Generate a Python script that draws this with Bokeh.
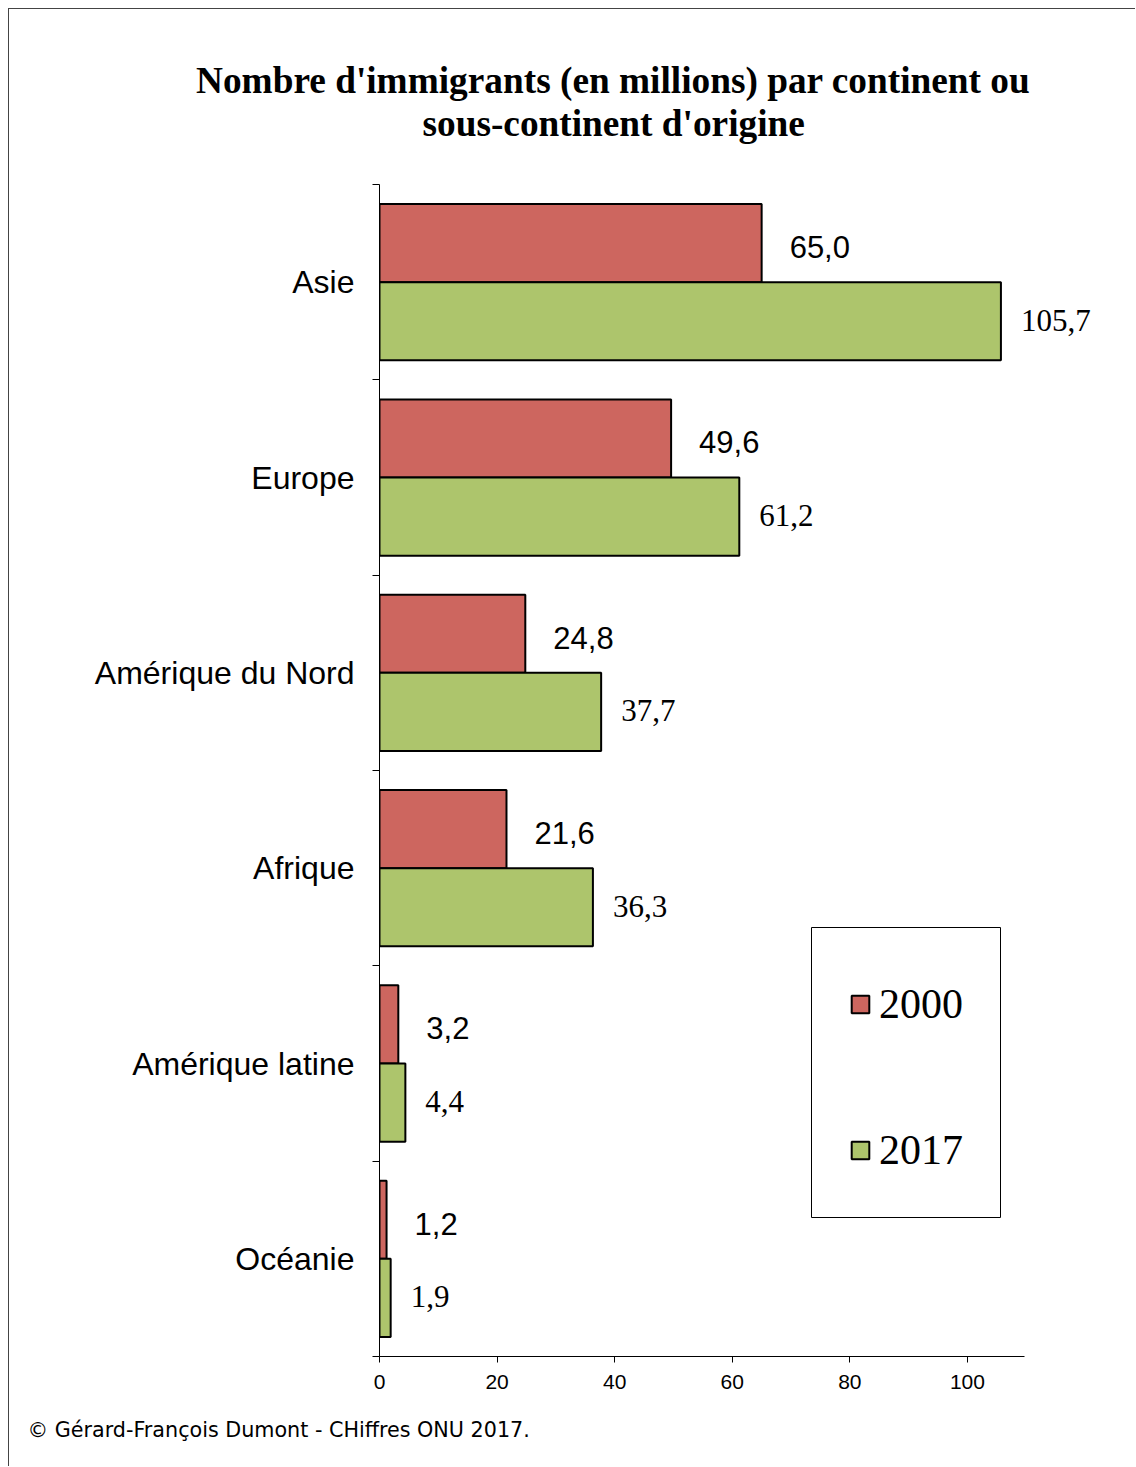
from bokeh.plotting import figure
from bokeh.models import (Range1d, FixedTicker, Title, Legend, LegendItem,
                          BoxAnnotation, ColumnDataSource)
from bokeh.core.properties import value
from bokeh.embed import file_html
from bokeh.resources import INLINE

# ---------------- data ----------------
categories = ["Asie", "Europe", "Amérique du Nord", "Afrique",
              "Amérique latine", "Océanie"]
values_2000 = [65.0, 49.6, 24.8, 21.6, 3.2, 1.2]
values_2017 = [105.7, 61.2, 37.7, 36.3, 4.4, 1.9]
series_names = ["2000", "2017"]
x_ticks = [0, 20, 40, 60, 80, 100]
title_lines = ["Nombre d'immigrants (en millions) par continent ou",
               "sous-continent d'origine"]
footer = "© Gérard-François Dumont - CHiffres ONU 2017."

RED = "#CD665F"
GREEN = "#ADC56C"

n = len(categories)
centers = [n - i - 0.5 for i in range(n)]


def fr(v):
    return f"{v:.1f}".replace(".", ",")


src = ColumnDataSource(dict(
    cat=categories,
    y2000=[c + 0.2 for c in centers],
    y2017=[c - 0.2 for c in centers],
    v2000=values_2000,
    v2017=values_2017,
    l2000=[fr(v) for v in values_2000],
    l2017=[fr(v) for v in values_2017],
))

p = figure(width=1127, height=1458,
           x_range=Range1d(0, 127.4), y_range=Range1d(0, 6.21),
           output_backend="svg", toolbar_location=None,
           min_border_left=370, min_border_right=8,
           min_border_top=134, min_border_bottom=111,
           styles={"margin-left": "8px", "margin-top": "8px",
                   "border-left": "1px solid #444",
                   "border-top": "1px solid #444"})
p.title.visible = False
p.grid.visible = False
p.outline_line_color = None
p.background_fill_color = "white"
p.border_fill_color = "white"

r1 = p.hbar(y="y2000", right="v2000", left=0, height=0.4, source=src,
            fill_color=RED, line_color="black", line_width=2)
r2 = p.hbar(y="y2017", right="v2017", left=0, height=0.4, source=src,
            fill_color=GREEN, line_color="black", line_width=2)

p.text(x="v2000", y="y2000", text="l2000", source=src, x_offset=28, y_offset=4,
       text_baseline="middle", text_align="left",
       text_font=value("Liberation Sans"), text_font_size="31px",
       text_color="black")
p.text(x="v2017", y="y2017", text="l2017", source=src, x_offset=20, y_offset=-1,
       text_baseline="middle", text_align="left",
       text_font=value("Liberation Serif"), text_font_size="31px",
       text_color="black")

# y axis: category labels at band centres, ticks at band boundaries
ya = p.yaxis[0]
ya.ticker = FixedTicker(ticks=centers, minor_ticks=list(range(n + 1)))
ya.bounds = (0, n)
ya.major_label_overrides = {c: name for c, name in zip(centers, categories)}
ya.major_tick_out = 0
ya.major_tick_in = 0
ya.minor_tick_out = 7
ya.minor_tick_in = 0
ya.minor_tick_line_color = "black"
ya.axis_line_color = "black"
ya.major_label_standoff = 18
ya.major_label_text_font = "Liberation Sans"
ya.major_label_text_font_size = "32px"
ya.major_label_text_color = "black"

xa = p.xaxis[0]
xa.ticker = FixedTicker(ticks=x_ticks, minor_ticks=[])
xa.bounds = (0, 109.7)
xa.major_tick_out = 6
xa.major_tick_in = 0
xa.major_tick_line_color = "black"
xa.axis_line_color = "black"
xa.major_label_standoff = 12
xa.major_label_text_font = "Liberation Sans"
xa.major_label_text_font_size = "21px"
xa.major_label_text_color = "black"

# legend
p.add_layout(BoxAnnotation(left=432, right=621, top=429, bottom=139,
                           left_units="screen", right_units="screen",
                           top_units="screen", bottom_units="screen",
                           fill_color=None, fill_alpha=0,
                           line_color="black", line_alpha=1, line_width=1))
legend = Legend(items=[LegendItem(label=series_names[0], renderers=[r1]),
                       LegendItem(label=series_names[1], renderers=[r2])],
                location=(470, 182), padding=0, spacing=98,
                glyph_width=22, glyph_height=22, label_standoff=8,
                label_text_font="Liberation Serif", label_text_font_size="42px",
                label_text_color="black",
                border_line_color=None, background_fill_alpha=0)
p.add_layout(legend)

# title (two lines; first added sits nearest the frame) and footer
p.add_layout(Title(text=title_lines[1], align="left", offset=43, standoff=0,
                   text_font="Liberation Serif", text_font_style="bold",
                   text_font_size="37.3px", text_color="black"), "above")
p.add_layout(Title(text=title_lines[0], align="left", offset=-183.5, standoff=0,
                   text_font="Liberation Serif", text_font_style="bold",
                   text_font_size="37.3px", text_color="black"), "above")
p.add_layout(Title(text=footer, align="left", offset=-352, standoff=49,
                   text_font="DejaVu Sans", text_font_style="normal",
                   text_font_size="20.7px", text_color="black"), "below")

open("out.html", "w").write(file_html(p, INLINE))
